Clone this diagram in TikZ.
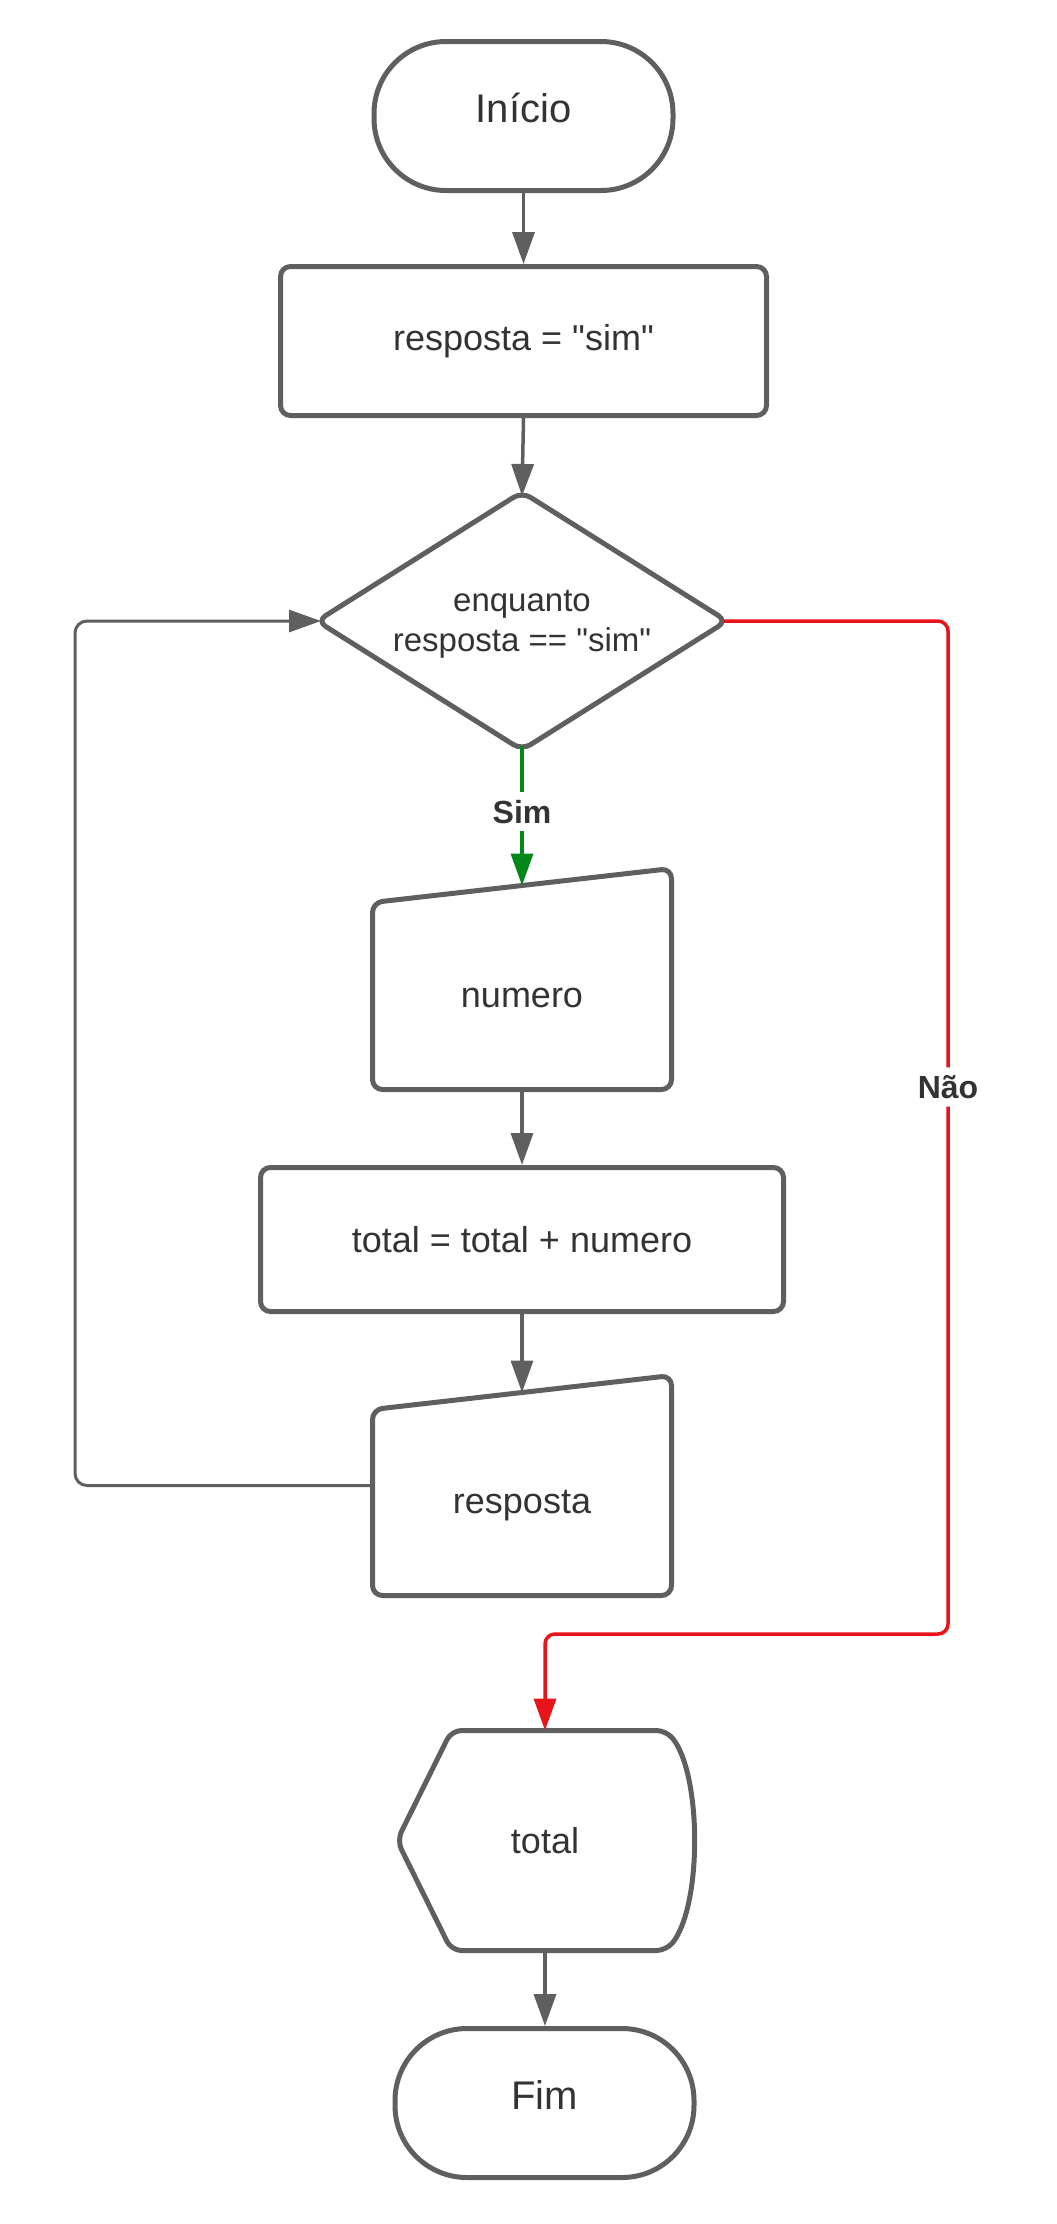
\documentclass[tikz,border=0pt]{standalone}
\usepackage{fontspec}
\setmainfont{Liberation Sans}
\newfontfamily\lsans{Liberation Sans}
\usetikzlibrary{arrows.meta,calc}
\definecolor{shp}{HTML}{5F5F5F}
\definecolor{txt}{HTML}{333333}
\definecolor{redl}{HTML}{E8141A}
\definecolor{grnl}{HTML}{00891A}
\begin{document}
\begin{tikzpicture}[x=0.5pt,y=-0.5pt,
  term/.style={draw=shp, line width=2.5pt, fill=white, rounded corners=36pt,
    minimum width=149.5pt, minimum height=74.5pt, inner sep=0pt, text=txt,
    text height=0.72em, text depth=0.08em,
    font=\lsans\fontsize{20}{24}\selectfont},
  proc/.style={draw=shp, line width=2.5pt, rounded corners=5pt, inner sep=0pt,
    text=txt, font=\lsans\fontsize{18}{22}\selectfont},
  ghost/.style={inner sep=0pt, outer sep=0pt, text=txt, font=\lsans\fontsize{18}{22}\selectfont},
  outline/.style={draw=shp, line width=2.5pt, rounded corners=5pt, line join=round},
  conn/.style={draw=shp, line width=1.75pt, -{Triangle[length=16pt,width=11pt]}},
  lbl/.style={fill=white, text=txt, font=\lsans\bfseries\fontsize{16}{19}\selectfont, inner xsep=2pt, inner ysep=4pt}
]
\useasboundingbox (0,0) rectangle (1056,2224);

% nodes
\node[term] (inicio) at (523.5,116) {Início};
\node[proc, minimum width=243pt, minimum height=74.5pt] (resp0) at (523.5,341) {resposta = "sim"};
\node[ghost, minimum width=205pt, minimum height=129pt] (dec) at (522,621) {};
\node[ghost, align=center, font=\lsans\fontsize{16.5}{20}\selectfont] (dectxt) at (522,624) {enquanto\\resposta == "sim"};
\node[ghost, minimum width=149.5pt, minimum height=110.5pt] (numero) at (522,979) {};
\node[ghost, anchor=base] (numtxt) at (522,1007) {numero};
\node[proc, minimum width=261.5pt, minimum height=72pt] (calc) at (522,1239.5) {total = total + numero};
\node[ghost, minimum width=149.5pt, minimum height=110pt] (resp1) at (522,1485.5) {};
\node[ghost, anchor=base] (resptxt) at (522,1513) {resposta};
\node[ghost, minimum width=148pt, minimum height=110pt] (disp) at (545,1840.5) {total};
\node[term] (fim) at (544.5,2103) {Fim};

% shapes drawn around ghost nodes
\draw[outline, rounded corners=5pt] (dec.north) -- (dec.east) -- (dec.south) -- (dec.west) -- cycle;
\draw[outline] ($(numero.north west)+(0,34)$) -- (numero.north east) -- (numero.south east) -- (numero.south west) -- cycle;
\draw[outline] ($(resp1.north west)+(0,34)$) -- (resp1.north east) -- (resp1.south east) -- (resp1.south west) -- cycle;
\draw[outline] (disp.west) -- ($(disp.north west)+(54.5,0)$) -- ($(disp.north east)+(-26.5,0)$)
  .. controls ($(disp.north east)+(9,45)$) and ($(disp.south east)+(9,-45)$) .. ($(disp.south east)+(-26.5,0)$)
  -- ($(disp.south west)+(54.5,0)$) -- cycle;

% helper coordinates
\coordinate (numtop) at ($(numero.north)+(0,17)$);
\coordinate (resptop) at ($(resp1.north)+(0,17)$);
\coordinate (lb) at (75,1485.5);
\coordinate (lt) at (75,621);
\coordinate (rt) at (948,621);
\coordinate (rb) at (948,1634);

% connectors
\draw[conn] (inicio.south) -- (resp0.north);
\draw[conn] (resp0.south) -- ($(dec.north)+(0,4)$);
\draw[conn, draw=grnl, -{Triangle[length=16pt,width=11pt,fill=grnl]}] ($(dec.south)+(0,-4)$) -- node[lbl, pos=0.47] {Sim} (numtop);
\draw[conn] (numero.south) -- (calc.north);
\draw[conn] (calc.south) -- (resptop);
\draw[conn, line width=1.5pt, rounded corners=6pt] (resp1.west) -- (lb) -- (lt) -- ($(dec.west)+(4,0)$);
\draw[conn, draw=redl, rounded corners=5pt] ($(dec.east)+(-4,0)$) -- (rt) -- node[lbl, pos=0.46] {Não} (rb) -- (rb -| disp.north) -- (disp.north);
\draw[conn] (disp.south) -- (disp.south |- fim.north);
\end{tikzpicture}
\end{document}
